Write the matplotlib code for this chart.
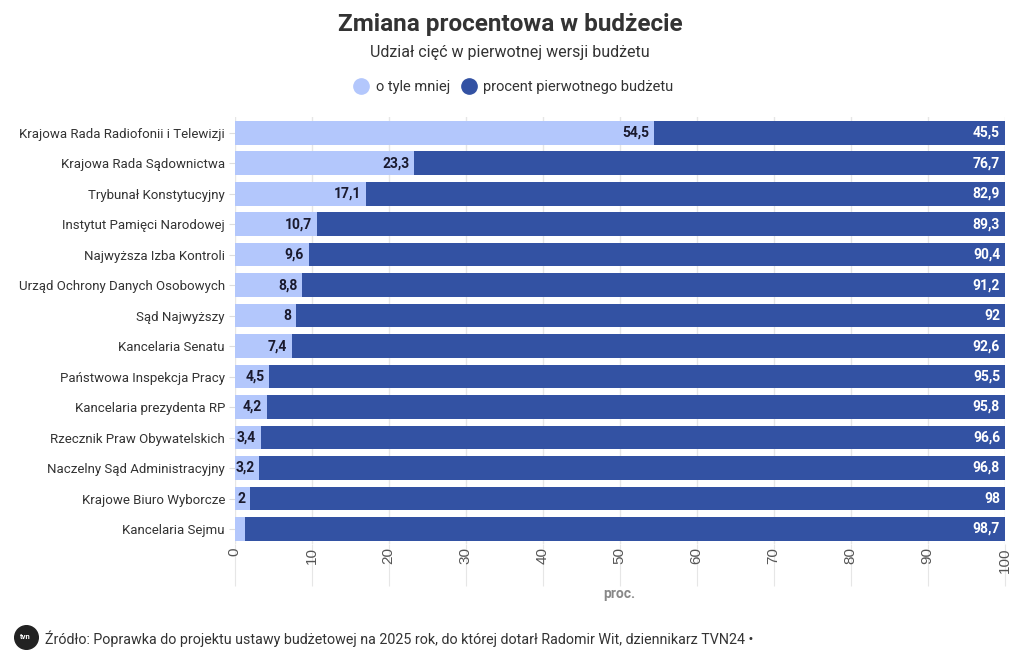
import matplotlib
matplotlib.use("Agg")
import matplotlib.pyplot as plt
from matplotlib.lines import Line2D
import matplotlib.transforms as mtransforms

CATEGORIES = [
    "Krajowa Rada Radiofonii i Telewizji",
    "Krajowa Rada Sądownictwa",
    "Trybunał Konstytucyjny",
    "Instytut Pamięci Narodowej",
    "Najwyższa Izba Kontroli",
    "Urząd Ochrony Danych Osobowych",
    "Sąd Najwyższy",
    "Kancelaria Senatu",
    "Państwowa Inspekcja Pracy",
    "Kancelaria prezydenta RP",
    "Rzecznik Praw Obywatelskich",
    "Naczelny Sąd Administracyjny",
    "Krajowe Biuro Wyborcze",
    "Kancelaria Sejmu",
]
LESS = [54.5, 23.3, 17.1, 10.7, 9.6, 8.8, 8, 7.4, 4.5, 4.2, 3.4, 3.2, 2, 1.3]
REMAIN = [45.5, 76.7, 82.9, 89.3, 90.4, 91.2, 92, 92.6, 95.5, 95.8, 96.6, 96.8, 98, 98.7]
LESS_LABELS = ["54,5", "23,3", "17,1", "10,7", "9,6", "8,8", "8", "7,4", "4,5", "4,2",
               "3,4", "3,2", "2", ""]
REMAIN_LABELS = ["45,5", "76,7", "82,9", "89,3", "90,4", "91,2", "92", "92,6", "95,5",
                 "95,8", "96,6", "96,8", "98", "98,7"]
XTICKS = [0, 10, 20, 30, 40, 50, 60, 70, 80, 90, 100]

LIGHT = "#b3c7fc"
DARK = "#3352a3"

plt.rcParams["font.family"] = ["Roboto", "DejaVu Sans"]

fig = plt.figure(figsize=(10.2, 6.67), dpi=100)
ax = fig.add_axes([0.230, 0.184, 0.755, 0.640])

ys = list(range(len(CATEGORIES)))
h = 0.78
ax.barh(ys, LESS, height=h, color=LIGHT, zorder=2)
ax.barh(ys, REMAIN, left=LESS, height=h, color=DARK, zorder=2)

for y, v, lab in zip(ys, LESS, LESS_LABELS):
    if lab:
        ax.text(v - 0.6, y, lab, ha="right", va="center", fontsize=10,
                fontweight="bold", color="#1a1a2e", zorder=3)
for y, l, v, lab in zip(ys, LESS, REMAIN, REMAIN_LABELS):
    ax.text(l + v - 0.6, y, lab, ha="right", va="center", fontsize=10,
            fontweight="bold", color="white", zorder=3)

ax.set_ylim(len(CATEGORIES) - 0.5, -0.5)
ax.set_xlim(0, 100)
ax.set_yticks(ys)
ax.set_yticklabels(CATEGORIES, fontsize=9.5, color="#333333")
ax.set_xticks(XTICKS)
ax.set_xticklabels([str(t) for t in XTICKS], rotation=90, fontsize=11,
                   color="#555555", family=["Liberation Sans", "DejaVu Sans"])
offset = mtransforms.ScaledTranslation(-6 / 100, 0, fig.dpi_scale_trans)
for lab in ax.get_xticklabels():
    lab.set_transform(lab.get_transform() + offset)
    lab.set_va("top")
ax.tick_params(axis="x", length=30, color="#e6e6e6", pad=-28)
ax.tick_params(axis="y", length=4, color="#dddddd", pad=3)
ax.grid(axis="x", color="#e6e6e6", linewidth=1, zorder=0)
for s in ax.spines.values():
    s.set_visible(False)

ax.set_xlabel("proc.", fontsize=10, fontweight="bold", color="#888888", labelpad=1)

fig.text(0.5, 0.963, "Zmiana procentowa w budżecie", ha="center", va="center",
         fontsize=17.5, fontweight="bold", color="#333333")
fig.text(0.5, 0.922, "Udział cięć w pierwotnej wersji budżetu", ha="center",
         va="center", fontsize=11.5, color="#333333")

handles = [
    Line2D([], [], marker="o", linestyle="", markersize=11, color=LIGHT,
           label="o tyle mniej"),
    Line2D([], [], marker="o", linestyle="", markersize=11, color=DARK,
           label="procent pierwotnego budżetu"),
]
fig.legend(handles=handles, loc="center", bbox_to_anchor=(0.5, 0.869), ncol=2,
           frameon=False, fontsize=10.5, handletextpad=0.0, columnspacing=0.3,
           labelcolor="#333333")

fig.text(0.044, 0.043, "Źródło: Poprawka do projektu ustawy budżetowej na 2025 rok, "
         "do której dotarł Radomir Wit, dziennikarz TVN24 •", ha="left", va="center",
         fontsize=10.3, color="#333333")
fig.add_artist(Line2D([0.025], [0.045], marker="o", markersize=17,
                      color="#222222", transform=fig.transFigure))
fig.text(0.025, 0.045, "tvn", ha="center", va="center", fontsize=5.5,
         fontweight="bold", color="white")

fig.savefig("out.png", dpi=100, facecolor="white")
